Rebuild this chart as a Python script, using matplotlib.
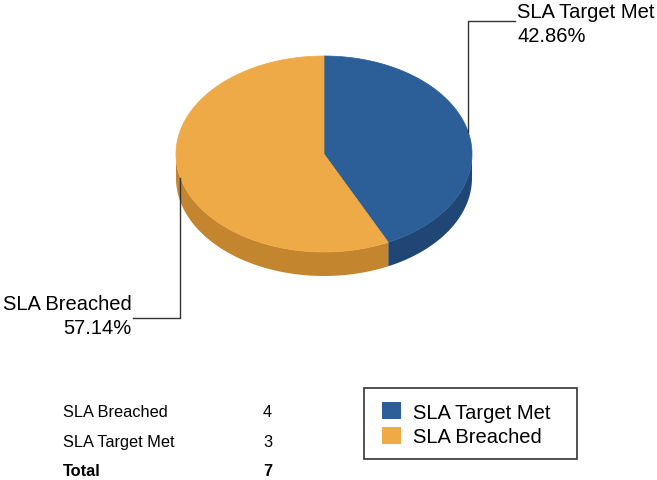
import numpy as np
import matplotlib.pyplot as plt
from matplotlib.patches import Polygon, Patch, Rectangle

plt.rcParams['font.family'] = ['Liberation Sans', 'DejaVu Sans']

# slice data, drawn clockwise from 12 o'clock
labels = ['SLA Target Met', 'SLA Breached']
counts = [3, 4]
top_colors = ['#2C5E98', '#EEAA47']
side_colors = ['#1F4675', '#C4852F']

# table rows (listed in a different order than the pie)
table_rows = ['SLA Breached', 'SLA Target Met']
table_vals = [4, 3]

W, H = 657, 481
fig = plt.figure(figsize=(W / 100, H / 100), dpi=100)
ax = fig.add_axes([0, 0, 1, 1])
ax.set_xlim(0, W)
ax.set_ylim(H, 0)
ax.axis('off')

# pie geometry (pixel space)
cx, cy, rx, ry, depth = 324, 155, 148, 98, 24


def pt(theta, dy=0):
    # theta in degrees, clockwise from the top
    t = np.radians(theta)
    return cx + rx * np.sin(t), cy - ry * np.cos(t) + dy


total = sum(counts)
fracs = [c / total for c in counts]
bounds = np.concatenate([[0], np.cumsum(fracs) * 360])

# side walls: only the front half (90..270 deg) is visible
for i in range(len(counts)):
    a0, a1 = max(bounds[i], 90), min(bounds[i + 1], 270)
    if a1 <= a0:
        continue
    th = np.linspace(a0, a1, 120)
    upper = [pt(t) for t in th]
    lower = [pt(t, depth) for t in th[::-1]]
    ax.add_patch(Polygon(upper + lower, closed=True, facecolor=side_colors[i],
                         edgecolor='none'))

# top faces
for i in range(len(counts)):
    th = np.linspace(bounds[i], bounds[i + 1], 200)
    verts = [(cx, cy)] + [pt(t) for t in th]
    ax.add_patch(Polygon(verts, closed=True, facecolor=top_colors[i],
                         edgecolor=top_colors[i], linewidth=0.5))

# leader lines and labels
fs = 14.5
mids = (bounds[:-1] + bounds[1:]) / 2
for i in range(len(counts)):
    x0, y0 = pt(mids[i])
    pct = '%.2f%%' % (fracs[i] * 100)
    if x0 > cx:
        ax.plot([x0, x0, 515], [y0, 22, 22], color='#333333', lw=1)
        ax.text(517, 13, labels[i], fontsize=fs, ha='left', va='center')
        ax.text(517, 36, pct, fontsize=fs, ha='left', va='center')
    else:
        ax.plot([x0, x0, 133], [y0 + 2, 319, 319], color='#333333', lw=1)
        ax.text(132, 305, labels[i], fontsize=fs, ha='right', va='center')
        ax.text(132, 329, pct, fontsize=fs, ha='right', va='center')

# summary table
tfs = 11.8
for j, (name, v) in enumerate(zip(table_rows, table_vals)):
    y = 413 + j * 30
    ax.text(63, y, name, fontsize=tfs, ha='left', va='center')
    ax.text(272, y, str(v), fontsize=tfs, ha='right', va='center')
ax.text(63, 472, 'Total', fontsize=tfs, fontweight='bold', ha='left', va='center')
ax.text(272, 472, str(sum(table_vals)), fontsize=tfs, fontweight='bold',
        ha='right', va='center')

# legend box
ax.add_patch(Rectangle((364, 389), 213, 71, facecolor='white',
                       edgecolor='#333333', linewidth=1.2))
handles = [Patch(facecolor=c, edgecolor='none') for c in top_colors]
fig.legend(handles, labels, loc='upper left',
           bbox_to_anchor=(382 / W, 1 - 403 / H), fontsize=fs,
           frameon=False, handlelength=0.95, handleheight=0.95,
           handletextpad=0.6, labelspacing=0.25, borderpad=0,
           borderaxespad=0)

fig.savefig('out.png', dpi=100)
